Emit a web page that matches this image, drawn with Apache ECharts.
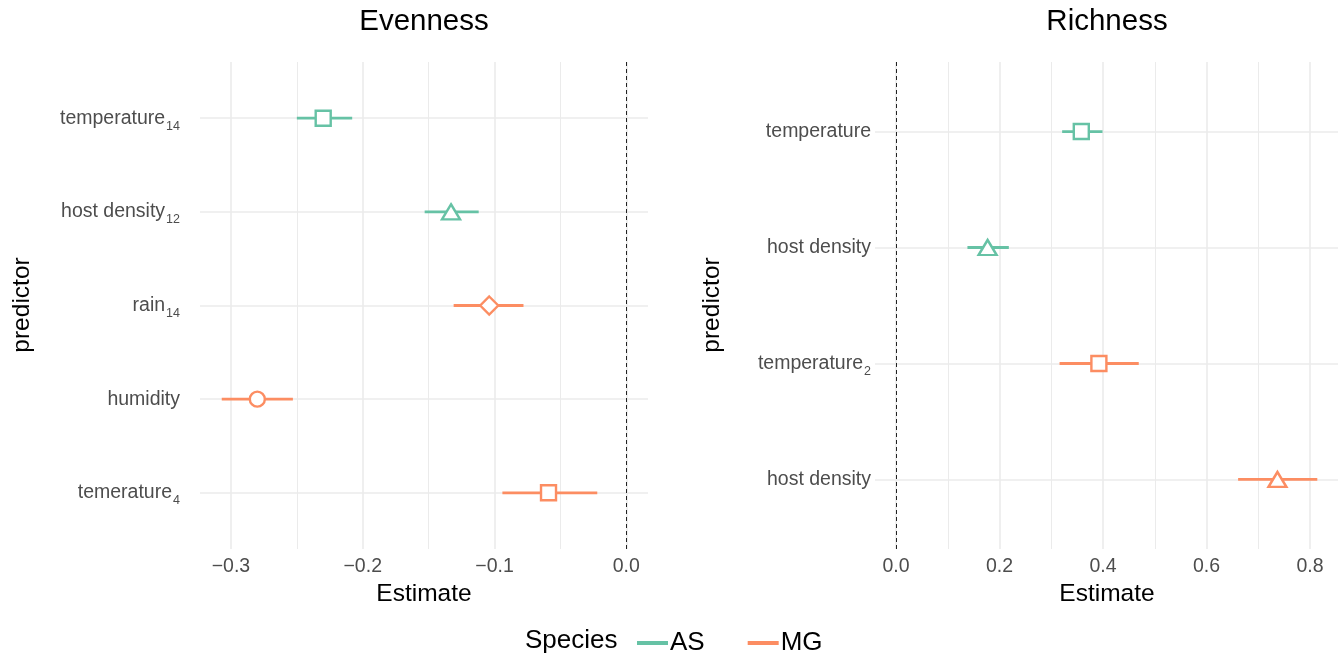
<!DOCTYPE html>
<html>
<head>
<meta charset="utf-8">
<script src="https://cdn.jsdelivr.net/npm/echarts@6/dist/echarts.min.js"></script>
<style>html,body{margin:0;padding:0;background:#fff}#c{width:1343px;height:657px}</style>
</head>
<body>
<div id="c"></div>
<script>
// ---- Evenness panel data ----
const evenLabels = ['temperature', 'host density', 'rain', 'humidity', 'temerature'];
const evenSubs = ['14', '12', '14', '', '4'];
const evenSpecies = ['AS', 'AS', 'MG', 'MG', 'MG'];
const evenShapes = ['rect', 'triangle', 'diamond', 'circle', 'rect'];
const evenEst = [-0.230, -0.133, -0.104, -0.280, -0.059];
const evenLo = [-0.250, -0.153, -0.131, -0.307, -0.094];
const evenHi = [-0.208, -0.112, -0.078, -0.253, -0.022];
const evenMajorTicks = [-0.3, -0.2, -0.1, 0.0];
const evenMinorTicks = [-0.25, -0.15, -0.05];

// ---- Richness panel data ----
const richLabels = ['temperature', 'host density', 'temperature', 'host density'];
const richSubs = ['', '', '2', ''];
const richSpecies = ['AS', 'AS', 'MG', 'MG'];
const richShapes = ['rect', 'triangle', 'rect', 'triangle'];
const richEst = [0.358, 0.177, 0.392, 0.737];
const richLo = [0.321, 0.138, 0.316, 0.661];
const richHi = [0.399, 0.218, 0.469, 0.814];
const richMajorTicks = [0.0, 0.2, 0.4, 0.6, 0.8];
const richMinorTicks = [0.1, 0.3, 0.5, 0.7];

const speciesNames = ['AS', 'MG'];
const colors = { AS: '#66C2A5', MG: '#FC8D62' };
const FONT = 'Liberation Sans, Arial, Helvetica, sans-serif';
const GRID_C = '#EBEBEB';

const symSize = { rect: [15, 15], triangle: [18, 15], diamond: [18, 18], circle: [15, 15] };

function catLabel(labels, subs) {
  return function (v) {
    const i = Math.round(v) - 1;
    if (i < 0 || i >= labels.length) return '';
    return subs[i] ? '{n|' + labels[i] + '}{s|' + subs[i] + '}' : '{n|' + labels[i] + '}';
  };
}
const richStyle = {
  n: { fontSize: 19.5, color: '#4D4D4D', fontFamily: FONT, lineHeight: 22, verticalAlign: 'middle' },
  s: { fontSize: 12.5, color: '#4D4D4D', fontFamily: FONT, lineHeight: 13, padding: [16, 0, 0, 1], verticalAlign: 'middle' }
};
function xFmt(v) {
  return v.toFixed(1).replace('-', '\u2212');
}
function idxs(n) { const a = []; for (let i = 1; i <= n; i++) a.push(i); return a; }

function panelSeries(p, est, lo, hi, species, shapes, major, minor, ny) {
  const out = [];
  out.push({
    type: 'scatter', xAxisIndex: p, yAxisIndex: p, data: [], silent: true,
    markLine: {
      silent: true, symbol: 'none', z: 1, animation: false,
      label: { show: false },
      data: []
        .concat(minor.map(v => ({ xAxis: v, lineStyle: { color: GRID_C, width: 1, type: 'solid' } })))
        .concat(major.map(v => ({ xAxis: v, lineStyle: { color: GRID_C, width: 1.6, type: 'solid' } })))
        .concat(idxs(ny).map(v => ({ yAxis: v, lineStyle: { color: GRID_C, width: 1.6, type: 'solid' } })))
    }
  });
  out.push({
    type: 'scatter', xAxisIndex: p, yAxisIndex: p, data: [], silent: true,
    markLine: {
      silent: true, symbol: 'none', z: 2, animation: false,
      label: { show: false },
      data: [{ xAxis: 0, lineStyle: { color: '#222', width: 1, type: [4, 3] } }]
    }
  });
  speciesNames.forEach(sp => {
    const bars = [], pts = [];
    est.forEach((e, i) => {
      if (species[i] !== sp) return;
      bars.push([lo[i], hi[i], i + 1]);
      pts.push({ value: [e, i + 1], symbol: shapes[i], symbolSize: symSize[shapes[i]] });
    });
    out.push({
      name: sp, type: 'custom', xAxisIndex: p, yAxisIndex: p, z: 3, silent: true,
      data: bars,
      renderItem: function (params, api) {
        const a = api.coord([api.value(0), api.value(2)]);
        const b = api.coord([api.value(1), api.value(2)]);
        return { type: 'line', shape: { x1: a[0], y1: a[1], x2: b[0], y2: b[1] },
          style: { stroke: colors[sp], lineWidth: 2.8 } };
      },
      encode: { x: [0, 1], y: 2 }
    });
    out.push({
      name: sp, type: 'scatter', xAxisIndex: p, yAxisIndex: p, z: 4, silent: true,
      data: pts,
      itemStyle: { color: '#fff', borderColor: colors[sp], borderWidth: 2.4, opacity: 1 }
    });
  });
  return out;
}

const chart = echarts.init(document.getElementById('c'), null, { renderer: 'canvas' });
const option = {
  animation: false,
  backgroundColor: '#fff',
  textStyle: { fontFamily: FONT },
  grid: [
    { left: 200, right: 1343 - 648, top: 62, bottom: 657 - 549 },
    { left: 875, right: 1343 - 1338, top: 62, bottom: 657 - 549 }
  ],
  xAxis: [
    { type: 'value', gridIndex: 0, min: -0.3235, max: 0.0165,
      axisLine: { show: false }, axisTick: { show: false }, splitLine: { show: false },
      axisLabel: { customValues: evenMajorTicks, formatter: xFmt, fontSize: 19.5, color: '#4D4D4D', fontFamily: FONT, margin: 8 } },
    { type: 'value', gridIndex: 1, min: -0.0406, max: 0.854,
      axisLine: { show: false }, axisTick: { show: false }, splitLine: { show: false },
      axisLabel: { customValues: richMajorTicks, formatter: xFmt, fontSize: 19.5, color: '#4D4D4D', fontFamily: FONT, margin: 8 } }
  ],
  yAxis: [
    { type: 'value', gridIndex: 0, min: 0.4, max: evenLabels.length + 0.6, inverse: true,
      axisLine: { show: false }, axisTick: { show: false }, splitLine: { show: false },
      axisLabel: { customValues: idxs(evenLabels.length), formatter: catLabel(evenLabels, evenSubs), rich: richStyle, margin: 20 } },
    { type: 'value', gridIndex: 1, min: 0.4, max: richLabels.length + 0.6, inverse: true,
      axisLine: { show: false }, axisTick: { show: false }, splitLine: { show: false },
      axisLabel: { customValues: idxs(richLabels.length), formatter: catLabel(richLabels, richSubs), rich: richStyle, margin: 4 } }
  ],
  legend: {
    left: 632, top: 625, itemWidth: 31, itemHeight: 4, itemGap: 43,
    selectedMode: false,
    textStyle: { fontSize: 26, color: '#000', fontFamily: FONT, padding: [0, 0, 0, -3] },
    data: speciesNames.map(s => ({ name: s, icon: 'rect', itemStyle: { color: colors[s], borderWidth: 0 } }))
  },
  graphic: [
    { type: 'text', x: 424, y: 22, style: { text: 'Evenness', font: '29.5px ' + FONT, fill: '#000', align: 'center', verticalAlign: 'middle' } },
    { type: 'text', x: 1107, y: 22, style: { text: 'Richness', font: '29.5px ' + FONT, fill: '#000', align: 'center', verticalAlign: 'middle' } },
    { type: 'text', x: 424, y: 594, style: { text: 'Estimate', font: '24.5px ' + FONT, fill: '#000', align: 'center', verticalAlign: 'middle' } },
    { type: 'text', x: 1107, y: 594, style: { text: 'Estimate', font: '24.5px ' + FONT, fill: '#000', align: 'center', verticalAlign: 'middle' } },
    { type: 'text', x: 22, y: 305, rotation: Math.PI / 2, style: { text: 'predictor', font: '24.5px ' + FONT, fill: '#000', align: 'center', verticalAlign: 'middle' } },
    { type: 'text', x: 712, y: 305, rotation: Math.PI / 2, style: { text: 'predictor', font: '24.5px ' + FONT, fill: '#000', align: 'center', verticalAlign: 'middle' } },
    { type: 'text', x: 525, y: 641, style: { text: 'Species', font: '26px ' + FONT, fill: '#000', align: 'left', verticalAlign: 'middle' } }
  ],
  series: []
    .concat(panelSeries(0, evenEst, evenLo, evenHi, evenSpecies, evenShapes, evenMajorTicks, evenMinorTicks, evenLabels.length))
    .concat(panelSeries(1, richEst, richLo, richHi, richSpecies, richShapes, richMajorTicks, richMinorTicks, richLabels.length))
};
chart.setOption(option);
</script>
</body>
</html>
